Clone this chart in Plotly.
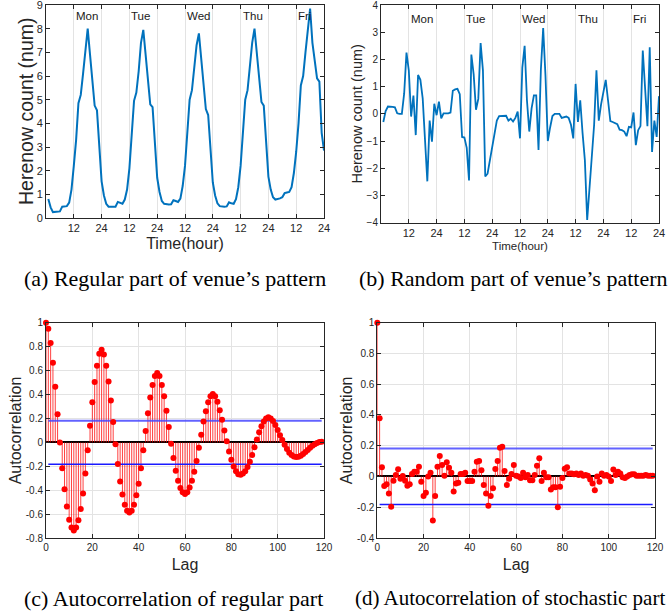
import plotly.graph_objects as go

# ---------------- data ----------------
hours = list(range(1, 121))

regular_part = [
    0.8, 0.45, 0.25, 0.25, 0.26, 0.28, 0.48, 0.48, 0.5, 0.65, 1.2, 2.2,
    3.3, 4.85, 5.2, 6.1, 7.2, 8.0, 6.9, 5.8, 4.75, 4.55, 3.0, 1.55,
    0.95, 0.6, 0.48, 0.48, 0.47, 0.48, 0.68, 0.64, 0.6, 0.78, 1.2, 2.1,
    3.4, 4.95, 5.3, 6.2, 7.4, 7.95, 6.9, 5.9, 4.8, 4.68, 3.2, 1.7,
    1.1, 0.72, 0.6, 0.57, 0.57, 0.58, 0.75, 0.72, 0.68, 0.82, 1.35, 2.2,
    3.5, 5.0, 5.4, 6.3, 7.3, 7.8, 6.8, 5.8, 4.6, 4.35, 3.0, 1.5,
    0.95, 0.62, 0.5, 0.48, 0.48, 0.49, 0.66, 0.62, 0.6, 0.8, 1.3, 2.2,
    3.6, 5.0, 5.4, 6.3, 7.4, 8.0, 6.9, 5.9, 4.9, 4.75, 3.2, 1.75,
    1.2, 0.88, 0.78, 0.8, 0.83, 0.88, 1.05, 1.08, 1.1, 1.3, 1.9, 2.8,
    4.0, 5.6, 6.0, 7.0, 8.1, 8.85, 7.4, 6.6, 5.9, 5.76, 3.6, 2.85,
]

random_part = [
    -0.3, 0.1, 0.27, 0.27, 0.26, 0.24, 0.02, 0.0, 0.0, 0.75, 2.25, 1.6,
    -0.1, 0.67, -0.78, 1.43, 1.25, 0.57, -1.0, -2.48, -0.25, -1.02, 0.37, -0.05,
    0.45, -0.17, 0.02, 0.02, 0.02, 0.05, 0.85, 0.9, 0.92, 0.72, -0.85, -0.87,
    -1.25, -2.45, 2.18, 1.45, 0.15, 0.55, 2.6, 1.6, -2.3, -2.2, -1.7, -1.15,
    -0.6, -0.25, -0.08, -0.08, -0.08, -0.07, -0.25, -0.18, -0.28, -0.15, 0.08, -0.9,
    1.7, 2.5, 0.5, -0.65, 0.2, 0.68, 0.68, -1.33, 1.6, 3.15, 1.4, -1.0,
    -0.5, -0.08, 0.0, 0.0, 0.0, -0.15, -0.13, -0.1, -0.15, -0.4, -0.9, 1.1,
    -0.3, 0.5, -0.7, -1.7, -3.9, -2.6, -1.4, -0.4, 1.6, -0.25, 0.35, 0.8,
    1.25, 0.5, -0.27, -0.3, -0.35, -0.38, -0.58, -0.6, -0.65, -0.82, -0.48, -0.5,
    0.05, -1.15, -0.6, -0.45, 2.33, 0.9, -0.45, 2.45, -1.4, -0.25, -0.85, 0.65,
]

lags = list(range(0, 120))

acf_regular = [
    1.0, 0.95, 0.83, 0.665, 0.465, 0.235, 0.0, -0.215, -0.39, -0.535,
    -0.645, -0.71, -0.735, -0.71, -0.65, -0.555, -0.425, -0.26, -0.065, 0.14,
    0.335, 0.505, 0.64, 0.74, 0.775, 0.735, 0.64, 0.51, 0.35, 0.17,
    -0.015, -0.18, -0.325, -0.435, -0.52, -0.57, -0.585, -0.57, -0.52, -0.44,
    -0.345, -0.215, -0.065, 0.095, 0.245, 0.375, 0.48, 0.555, 0.58, 0.555,
    0.48, 0.385, 0.265, 0.13, -0.01, -0.13, -0.235, -0.32, -0.38, -0.415,
    -0.43, -0.415, -0.375, -0.32, -0.245, -0.155, -0.045, 0.065, 0.175, 0.26,
    0.335, 0.385, 0.405, 0.385, 0.34, 0.27, 0.19, 0.1, 0.01, -0.075,
    -0.145, -0.2, -0.24, -0.265, -0.27, -0.26, -0.24, -0.205, -0.16, -0.105,
    -0.04, 0.025, 0.085, 0.135, 0.175, 0.2, 0.21, 0.2, 0.18, 0.145,
    0.105, 0.06, 0.02, -0.02, -0.055, -0.085, -0.105, -0.118, -0.122, -0.12,
    -0.11, -0.097, -0.08, -0.063, -0.045, -0.028, -0.015, -0.005, 0.003, 0.006,
]

acf_random = [
    1.0, 0.378, 0.06, -0.062, -0.05, -0.11, -0.196, -0.027, 0.01, 0.047,
    -0.014, 0.003, -0.027, -0.06, -0.05, 0.016, 0.03, 0.03, 0.064, -0.034,
    -0.127, -0.105, 0.0, 0.025, -0.287, -0.127, 0.064, 0.133, 0.075, 0.005,
    0.092, 0.057, 0.025, -0.098, -0.045, -0.04, 0.016, 0.016, 0.025, -0.03,
    -0.03, -0.03, 0.03, 0.096, 0.1, 0.04, -0.055, -0.11, -0.19, -0.127,
    -0.077, 0.049, 0.1, 0.187, 0.194, 0.036, -0.055, -0.014, 0.016, 0.075,
    0.005, 0.0, -0.01, 0.025, -0.005, 0.01, -0.025, -0.025, 0.01, 0.07,
    0.118, -0.03, 0.025, -0.005, -0.005, -0.084, -0.07, -0.07, -0.2, -0.066,
    -0.01, 0.05, 0.06, 0.02, 0.02, 0.015, 0.02, 0.01, 0.02, 0.005,
    0.01, 0.005, -0.02, -0.045, -0.09, 0.0, -0.035, 0.02, 0.005, 0.01,
    0.0, -0.03, 0.046, 0.01, 0.03, 0.02, -0.005, -0.01, 0.0, 0.01,
    0.015, 0.015, 0.005, 0.005, 0.005, 0.005, 0.01, 0.005, 0.005, 0.005,
]

conf_bound = 0.182
conf_lags = [1, 119]

days = ["Mon", "Tue", "Wed", "Thu", "Fri"]
hour_tickvals = [12, 24, 36, 48, 60, 72, 84, 96, 108, 120]
hour_ticktext = ["12", "24", "12", "24", "12", "24", "12", "24", "12", "24"]
a_yticks = [0, 1, 2, 3, 4, 5, 6, 7, 8, 9]
b_yticks = [-4, -3, -2, -1, 0, 1, 2, 3, 4]
c_yticks = [-0.8, -0.6, -0.4, -0.2, 0, 0.2, 0.4, 0.6, 0.8, 1]
c_ytext = ["-0.8", "-0.6", "-0.4", "-0.2", "0", "0.2", "0.4", "0.6", "0.8", "1"]
d_yticks = [-0.4, -0.2, 0, 0.2, 0.4, 0.6, 0.8, 1]
d_ytext = ["-0.4", "-0.2", "0", "0.2", "0.4", "0.6", "0.8", "1"]
lag_ticks = [0, 20, 40, 60, 80, 100, 120]

captions = [
    "(a) Regular part of venue\u2019s pattern",
    "(b) Random part of venue\u2019s pattern",
    "(c) Autocorrelation of regular part",
    "(d) Autocorrelation of stochastic part",
]

# ---------------- style ----------------
W, H = 670, 613
SANS = "Liberation Sans, Arial, sans-serif"
SERIF = "Liberation Serif, Times New Roman, serif"
AXC = "#262626"
BLUE = "#0072BD"
RED = "#ff0000"


def px_x(a, b):
    return [a / W, b / W]


def px_y(top, bottom):
    return [1 - bottom / H, 1 - top / H]


fig = go.Figure()

# (a)
fig.add_trace(go.Scatter(x=hours, y=regular_part, mode="lines",
                         line=dict(color=BLUE, width=2), xaxis="x", yaxis="y"))
# (b)
fig.add_trace(go.Scatter(x=hours, y=random_part, mode="lines",
                         line=dict(color=BLUE, width=1.8), xaxis="x2", yaxis="y2"))


def stems(xs, ys):
    sx, sy = [], []
    for x, y in zip(xs, ys):
        sx += [x, x, None]
        sy += [0, y, None]
    return sx, sy


for acf, xa, ya in [(acf_regular, "x3", "y3"), (acf_random, "x4", "y4")]:
    sx, sy = stems(lags, acf)
    fig.add_trace(go.Scatter(x=sx, y=sy, mode="lines",
                             line=dict(color="rgba(255,0,0,0.75)", width=1),
                             xaxis=xa, yaxis=ya))
    fig.add_trace(go.Scatter(x=conf_lags, y=[conf_bound] * 2, mode="lines",
                             line=dict(color="rgba(70,70,255,0.85)", width=2),
                             xaxis=xa, yaxis=ya))
    fig.add_trace(go.Scatter(x=conf_lags, y=[-conf_bound] * 2, mode="lines",
                             line=dict(color="#1a1aff", width=1.5),
                             xaxis=xa, yaxis=ya))
    fig.add_trace(go.Scatter(x=lags, y=acf, mode="markers", cliponaxis=False,
                             marker=dict(color=RED, size=6),
                             xaxis=xa, yaxis=ya))

common = dict(showline=True, linecolor=AXC, linewidth=1, mirror="ticks",
              ticks="inside", ticklen=4, tickcolor=AXC, tickwidth=1,
              tickfont=dict(family=SANS, size=11, color=AXC),
              ticklabeloverflow="allow",
              automargin=False, zeroline=False)

layout = dict(
    width=W, height=H, margin=dict(l=0, r=0, t=0, b=0),
    paper_bgcolor="white", plot_bgcolor="white", showlegend=False,
    font=dict(family=SANS, color=AXC),
)

# (a) axes
layout["xaxis"] = dict(common, domain=px_x(46, 324), range=[0, 120], anchor="y",
                       tickvals=hour_tickvals, ticktext=hour_ticktext,
                       showgrid=True, gridcolor="#e3e3e3", gridwidth=1,
                       title=dict(text="Time(hour)", standoff=4,
                                  font=dict(family=SANS, size=16, color=AXC)))
layout["yaxis"] = dict(common, domain=px_y(5, 218), range=[0, 9], anchor="x",
                       tickvals=a_yticks, showgrid=False)
# (b) axes
layout["xaxis2"] = dict(common, domain=px_x(381, 659), range=[0, 120], anchor="y2",
                        tickvals=hour_tickvals, ticktext=hour_ticktext,
                        showgrid=True, gridcolor="#e3e3e3", gridwidth=1,
                        title=dict(text="Time(hour)", standoff=4,
                                   font=dict(family=SANS, size=11.5, color=AXC)))
layout["yaxis2"] = dict(common, domain=px_y(5, 222.7), range=[-4, 4], anchor="x2",
                        tickvals=b_yticks, showgrid=False,
                        tickfont=dict(family=SANS, size=10, color=AXC),
                        title=dict(text="Herenow count (num)", standoff=0,
                                   font=dict(family=SANS, size=14.5, color=AXC)))
# (c) axes
layout["xaxis3"] = dict(common, domain=px_x(46, 324), range=[0, 120], anchor="y3",
                        tickvals=lag_ticks, showgrid=True, gridcolor="#e3e3e3",
                        tickfont=dict(family=SANS, size=10, color=AXC),
                        title=dict(text="Lag", standoff=6,
                                   font=dict(family=SANS, size=16, color=AXC)))
layout["yaxis3"] = dict(common, domain=px_y(322.7, 538.3), range=[-0.8, 1], anchor="x3",
                        tickvals=c_yticks, ticktext=c_ytext,
                        showgrid=True, gridcolor="#e3e3e3",
                        zeroline=True, zerolinecolor="black", zerolinewidth=1.5,
                        tickfont=dict(family=SANS, size=10, color=AXC),
                        title=dict(text="Autocorrelation", standoff=0,
                                   font=dict(family=SANS, size=16, color=AXC)))
# (d) axes
layout["xaxis4"] = dict(common, domain=px_x(377.3, 655), range=[0, 120], anchor="y4",
                        tickvals=lag_ticks, showgrid=True, gridcolor="#e3e3e3",
                        tickfont=dict(family=SANS, size=10, color=AXC),
                        title=dict(text="Lag", standoff=6,
                                   font=dict(family=SANS, size=16, color=AXC)))
layout["yaxis4"] = dict(common, domain=px_y(322.7, 538), range=[-0.4, 1], anchor="x4",
                        tickvals=d_yticks, ticktext=d_ytext,
                        showgrid=True, gridcolor="#e3e3e3",
                        zeroline=True, zerolinecolor="black", zerolinewidth=1.5,
                        tickfont=dict(family=SANS, size=10, color=AXC),
                        title=dict(text="Autocorrelation", standoff=0,
                                   font=dict(family=SANS, size=16, color=AXC)))

annotations = []
# y title of panel (a)
annotations.append(dict(x=26 / W, y=1 - 111 / H, xref="paper", yref="paper",
                        text="Herenow count (num)", textangle=-90,
                        showarrow=False, xanchor="center", yanchor="middle",
                        font=dict(family=SANS, size=19.5, color=AXC)))
for i, d in enumerate(days):
    annotations.append(dict(x=12 + 24 * i, y=8.55, xref="x", yref="y", text=d,
                            showarrow=False, xanchor="left", yanchor="middle",
                            font=dict(family=SANS, size=11.5, color="#1a1a1a")))
    annotations.append(dict(x=12 + 24 * i, y=3.5, xref="x2", yref="y2", text=d,
                            showarrow=False, xanchor="left", yanchor="middle",
                            font=dict(family=SANS, size=11.5, color="#1a1a1a")))

cap_pos = [(22, 278, 22), (357, 278, 22), (22, 598, 22), (353, 598, 21)]
for txt, (cx, cy, fs) in zip(captions, cap_pos):
    annotations.append(dict(x=cx / W, y=1 - cy / H, xref="paper", yref="paper",
                            text=txt, showarrow=False, xanchor="left",
                            yanchor="middle",
                            font=dict(family=SERIF, size=fs, color="black")))
layout["annotations"] = annotations

fig.update_layout(**layout)
fig.write_html("out.html", config={"displayModeBar": False},
               post_script="document.body.style.margin='0';"
                           "document.body.style.overflow='hidden';")
